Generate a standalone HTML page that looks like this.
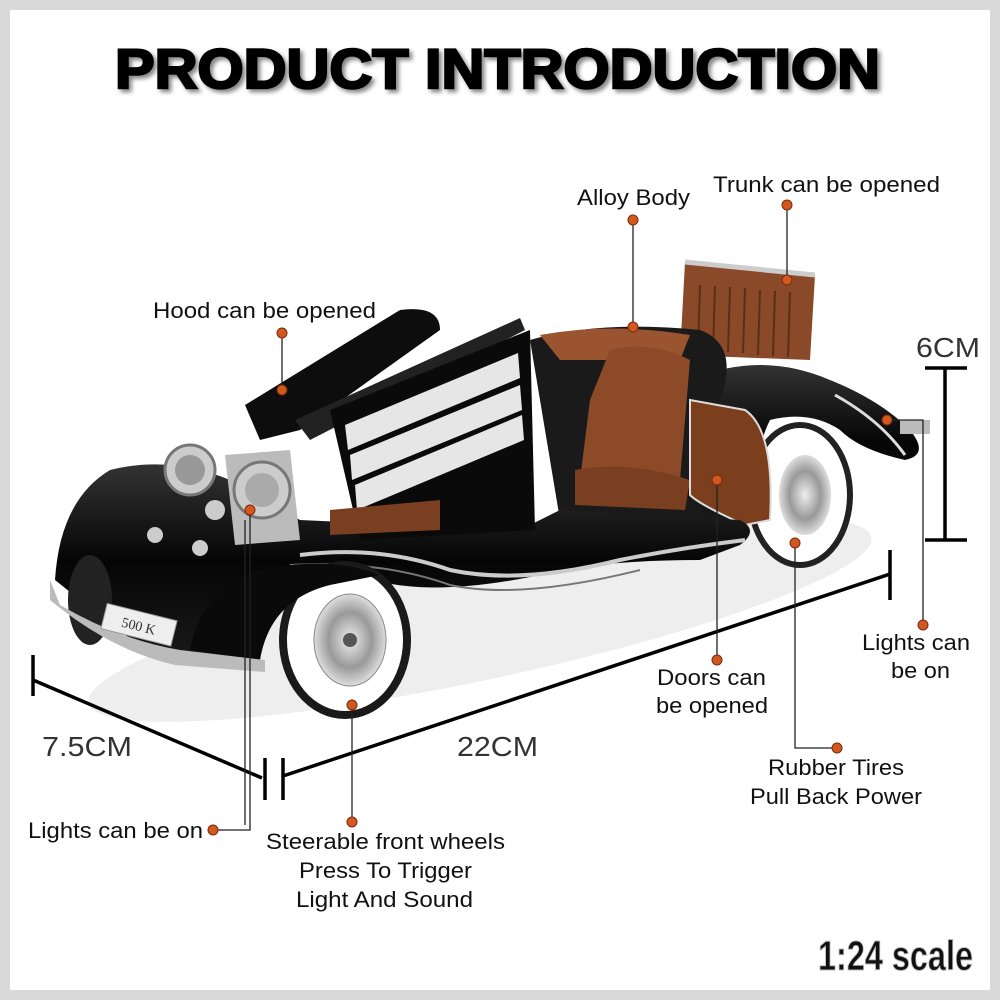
<!DOCTYPE html>
<html><head><meta charset="utf-8"><style>
html,body{margin:0;padding:0;background:#d9d9d9}
svg{display:block}
</style></head><body>
<svg width="1000" height="1000" viewBox="0 0 1000 1000" xmlns="http://www.w3.org/2000/svg">
<defs>
<filter id="sh" x="-5%" y="-5%" width="110%" height="130%"><feDropShadow dx="3" dy="3" stdDeviation="2" flood-color="#666" flood-opacity="0.8"/></filter>
<radialGradient id="hub" cx="50%" cy="50%" r="50%"><stop offset="0" stop-color="#eee"/><stop offset="0.6" stop-color="#999"/><stop offset="1" stop-color="#ddd"/></radialGradient>
<linearGradient id="bd" x1="0" y1="0" x2="0" y2="1"><stop offset="0" stop-color="#333"/><stop offset="0.5" stop-color="#050505"/><stop offset="1" stop-color="#1a1a1a"/></linearGradient>
</defs>
<rect x="10" y="10" width="980" height="980" fill="#fff"/>
<text x="115" y="88" textLength="765" lengthAdjust="spacingAndGlyphs" font-family="Liberation Sans, sans-serif" font-weight="900" font-size="56" fill="#000" filter="url(#sh)" stroke="#000" stroke-width="2.5">PRODUCT INTRODUCTION</text>

<ellipse cx="480" cy="620" rx="400" ry="60" fill="#eee" transform="rotate(-12 480 620)"/>

<ellipse cx="800" cy="495" rx="50" ry="70" fill="#fff" stroke="#222" stroke-width="6"/>
<ellipse cx="805" cy="495" rx="26" ry="40" fill="url(#hub)"/>
<path d="M690 380 Q760 350 830 380 Q880 400 910 430 Q930 455 905 460 Q860 450 840 430 Q810 410 770 420 Q750 460 760 520 L700 520 Z" fill="url(#bd)"/>
<path d="M835 395 Q880 420 905 455" stroke="#ddd" stroke-width="3" fill="none"/>
<path d="M685 262 L815 275 L810 360 L680 355 Z" fill="#8a4a2a"/>
<path d="M685 262 L815 275" stroke="#ccc" stroke-width="5"/>
<g stroke="#5a2e18" stroke-width="2"><line x1="700" y1="285" x2="698" y2="350"/><line x1="715" y1="286" x2="713" y2="350"/><line x1="730" y1="287" x2="728" y2="352"/><line x1="745" y1="288" x2="743" y2="353"/><line x1="760" y1="290" x2="758" y2="355"/><line x1="775" y1="291" x2="773" y2="356"/><line x1="790" y1="292" x2="788" y2="357"/></g>
<path d="M530 340 Q600 320 700 330 Q740 345 720 400 L700 520 L560 520 Z" fill="#1a1a1a"/>
<path d="M540 335 Q610 322 690 335 L680 360 L560 360 Z" fill="#9a5530"/>
<path d="M610 350 Q650 340 690 360 L680 480 Q630 500 580 480 L590 400 Z" fill="#8c4a28"/>
<path d="M575 470 Q630 460 690 480 L685 510 L575 505 Z" fill="#7a3e20"/>
<path d="M690 400 L745 410 Q775 430 770 520 L745 525 Q700 505 690 495 Z" fill="#7c3f1e" stroke="#ddd" stroke-width="2"/>
<path d="M55 580 Q60 500 110 470 Q170 455 230 480 L300 520 L520 530 L560 510 L740 520 Q760 530 740 545 L700 560 Q600 560 540 575 Q420 600 360 575 Q320 560 280 580 Q250 600 240 660 L180 660 Q120 640 80 600 Z" fill="url(#bd)"/>
<path d="M300 555 Q380 545 450 570 Q520 585 620 560 Q680 548 745 540" stroke="#ccc" stroke-width="4" fill="none"/>
<path d="M290 565 Q380 560 450 585 Q520 600 640 570" stroke="#777" stroke-width="2" fill="none"/>
<path d="M245 405 L400 310 Q440 305 440 330 L300 430 L260 440 Z" fill="#0d0d0d"/>
<path d="M295 420 L520 318 L525 330 L310 440 Z" fill="#222"/>
<path d="M330 410 L530 330 L535 530 L360 540 Z" fill="#0a0a0a"/>
<g fill="#e6e6e6"><path d="M345 425 L518 353 L520 378 L348 450 Z"/><path d="M350 455 L520 385 L522 410 L352 480 Z"/><path d="M355 485 L522 415 L524 440 L357 510 Z"/></g>
<path d="M330 510 L440 500 L440 530 L330 535 Z" fill="#7a3e20"/>
<path d="M225 455 L290 450 L300 540 L235 545 Z" fill="#bbb"/>
<circle cx="190" cy="470" r="25" fill="#ccc" stroke="#777" stroke-width="3"/>
<circle cx="190" cy="470" r="15" fill="#999"/>
<circle cx="262" cy="490" r="28" fill="#ccc" stroke="#777" stroke-width="3"/>
<circle cx="262" cy="490" r="17" fill="#aaa"/>
<circle cx="215" cy="510" r="10" fill="#ccc"/>
<circle cx="155" cy="535" r="8" fill="#ccc"/><circle cx="200" cy="548" r="8" fill="#ccc"/>
<ellipse cx="90" cy="600" rx="22" ry="45" fill="#222"/>
<ellipse cx="345" cy="640" rx="62" ry="75" fill="#fff" stroke="#1a1a1a" stroke-width="8"/>
<ellipse cx="350" cy="640" rx="36" ry="46" fill="url(#hub)" stroke="#888"/>
<circle cx="350" cy="640" r="7" fill="#555"/>
<path d="M190 650 Q200 590 260 570 Q330 555 380 575 L330 585 Q270 600 260 660 Z" fill="#0a0a0a"/>
<path d="M50 580 L60 605 Q120 640 180 650 L265 660 L265 672 L175 665 Q110 650 50 600 Z" fill="#bbb"/>
<g transform="rotate(14 140 625)"><rect x="103" y="612" width="72" height="26" fill="#eee" stroke="#999"/><text x="139" y="631" text-anchor="middle" font-family="Liberation Serif, serif" font-size="14" fill="#333">500 K</text></g>
<rect x="900" y="420" width="30" height="14" fill="#bbb"/>

<g stroke="#000" stroke-width="3.5" fill="none">
<line x1="33" y1="655" x2="33" y2="696"/>
<line x1="33" y1="680" x2="262" y2="778"/>
<line x1="265" y1="758" x2="265" y2="800"/>
<line x1="283" y1="758" x2="283" y2="800"/>
<line x1="283" y1="776" x2="890" y2="574"/>
<line x1="890" y1="550" x2="890" y2="600"/>
<line x1="945" y1="368" x2="945" y2="540"/>
<line x1="925" y1="368" x2="967" y2="368"/>
<line x1="925" y1="540" x2="967" y2="540"/>
</g>
<g font-family="Liberation Sans, sans-serif" font-size="28" fill="#333" lengthAdjust="spacingAndGlyphs">
<text x="42" y="756" textLength="90" lengthAdjust="spacingAndGlyphs">7.5CM</text>
<text x="457" y="756" textLength="81" lengthAdjust="spacingAndGlyphs">22CM</text>
<text x="916" y="357" textLength="64" lengthAdjust="spacingAndGlyphs">6CM</text>
</g>

<g stroke="#222" stroke-width="1.3" fill="none">
<line x1="282" y1="333" x2="282" y2="390"/>
<line x1="633" y1="220" x2="633" y2="327"/>
<line x1="787" y1="205" x2="787" y2="280"/>
<polyline points="887,420 923,420 923,625"/>
<line x1="717" y1="480" x2="717" y2="660"/>
<polyline points="795,543 795,748 837,748"/>
<line x1="352" y1="705" x2="352" y2="822"/>
<polyline points="250,510 250,830 213,830"/>
<line x1="245" y1="520" x2="245" y2="825"/>
</g>
<g fill="#d2581f" stroke="#7a2a0a" stroke-width="1">
<circle cx="282" cy="333" r="5"/><circle cx="282" cy="390" r="5"/>
<circle cx="633" cy="220" r="5"/><circle cx="633" cy="327" r="5"/>
<circle cx="787" cy="205" r="5"/><circle cx="787" cy="280" r="5"/>
<circle cx="887" cy="420" r="5"/><circle cx="923" cy="625" r="5"/>
<circle cx="717" cy="480" r="5"/><circle cx="717" cy="660" r="5"/>
<circle cx="795" cy="543" r="5"/><circle cx="837" cy="748" r="5"/>
<circle cx="352" cy="705" r="5"/><circle cx="352" cy="822" r="5"/>
<circle cx="250" cy="510" r="5"/><circle cx="213" cy="830" r="5"/>
</g>
<g font-family="Liberation Sans, sans-serif" font-size="22" fill="#111">
<text x="153" y="318" textLength="223" lengthAdjust="spacingAndGlyphs">Hood can be opened</text>
<text x="577" y="205" textLength="113" lengthAdjust="spacingAndGlyphs">Alloy Body</text>
<text x="713" y="192" textLength="227" lengthAdjust="spacingAndGlyphs">Trunk can be opened</text>
<text x="862" y="650" textLength="108" lengthAdjust="spacingAndGlyphs">Lights can</text>
<text x="891" y="678" textLength="59" lengthAdjust="spacingAndGlyphs">be on</text>
<text x="657" y="685" textLength="109" lengthAdjust="spacingAndGlyphs">Doors can</text>
<text x="656" y="713" textLength="112" lengthAdjust="spacingAndGlyphs">be opened</text>
<text x="768" y="775" textLength="136" lengthAdjust="spacingAndGlyphs">Rubber Tires</text>
<text x="750" y="804" textLength="172" lengthAdjust="spacingAndGlyphs">Pull Back Power</text>
<text x="28" y="838" textLength="175" lengthAdjust="spacingAndGlyphs">Lights can be on</text>
<text x="266" y="849" textLength="239" lengthAdjust="spacingAndGlyphs">Steerable front wheels</text>
<text x="299" y="878" textLength="173" lengthAdjust="spacingAndGlyphs">Press To Trigger</text>
<text x="296" y="907" textLength="177" lengthAdjust="spacingAndGlyphs">Light And Sound</text>
</g>
<text x="818" y="970" textLength="155" lengthAdjust="spacingAndGlyphs" font-family="Liberation Sans Narrow, Liberation Sans, sans-serif" font-weight="bold" font-size="42" fill="#111" stroke="#bbb" stroke-width="1">1:24 scale</text>
</svg>
</body></html>
